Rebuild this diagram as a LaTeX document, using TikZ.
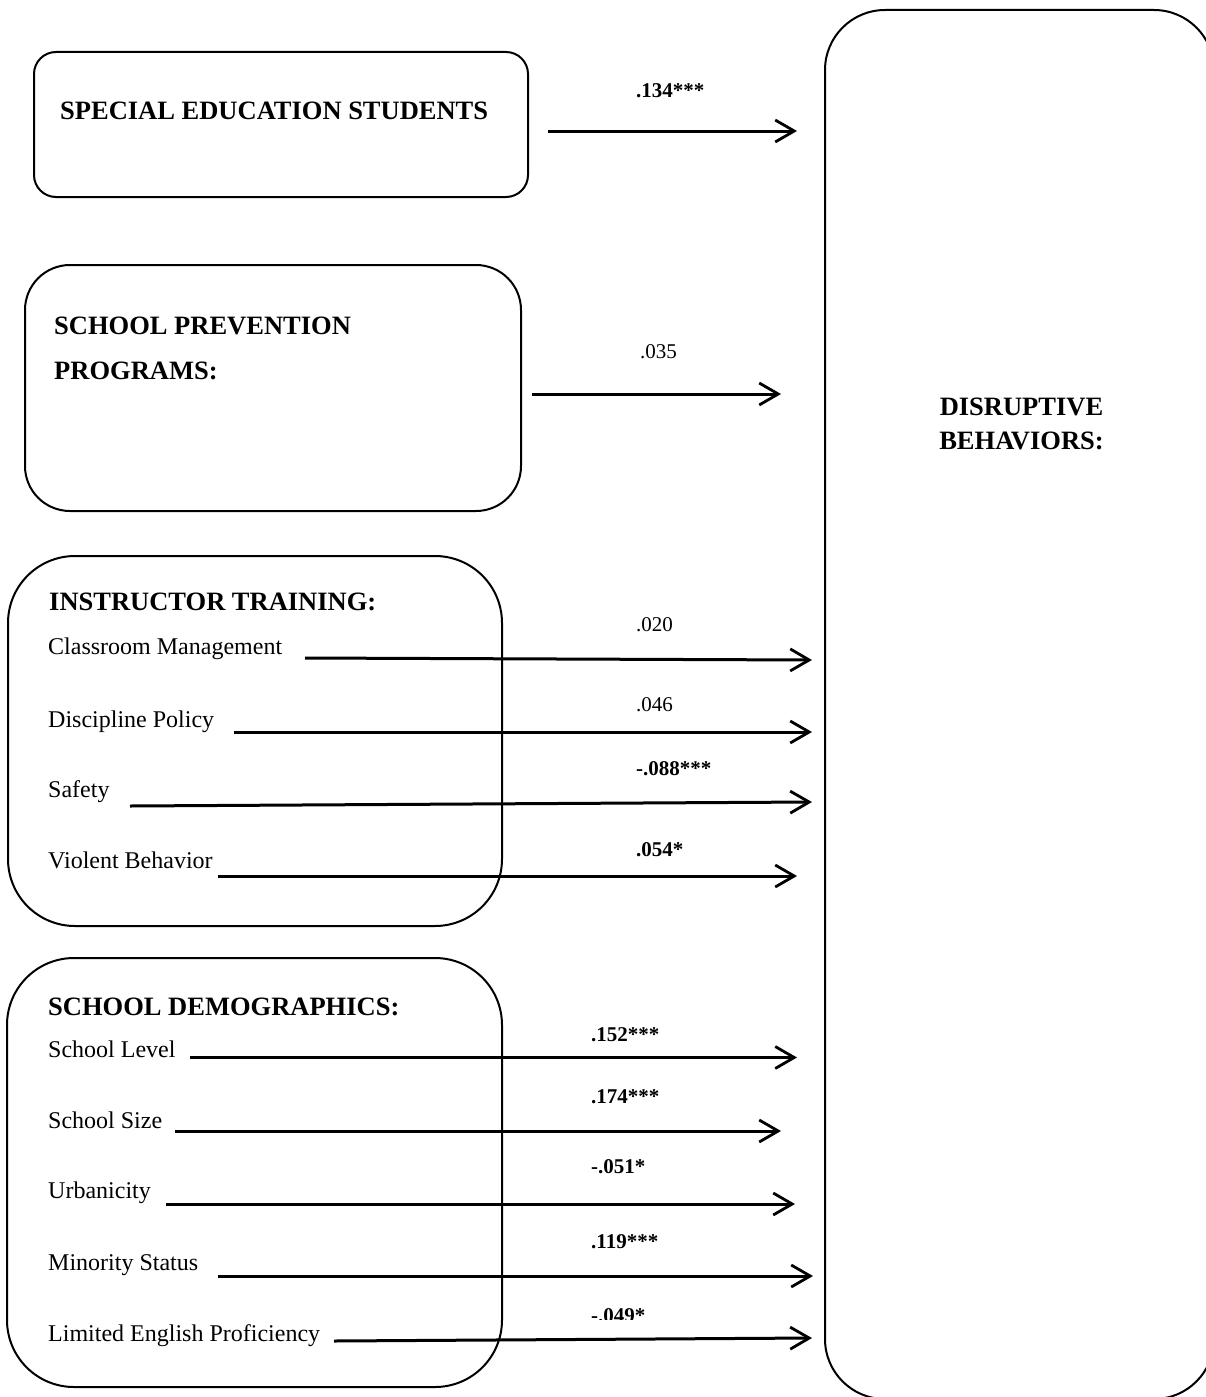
\documentclass[tikz,border=0pt]{standalone}
\usepackage{fontspec}
\setmainfont{Liberation Serif}
\usetikzlibrary{arrows.meta}
\begin{document}
\begin{tikzpicture}[x=1pt,y=-1pt,
  box/.style={draw, line width=2pt, inner sep=0pt},
  ttl/.style={font=\fontsize{26.5}{30}\selectfont\bfseries, inner sep=0pt, anchor=base west},
  txt/.style={font=\fontsize{24}{28}\selectfont, inner sep=0pt, anchor=base west},
  lbl/.style={font=\fontsize{21}{24}\selectfont, inner sep=0pt, anchor=base west},
  lblb/.style={lbl, font=\fontsize{21}{24}\selectfont\bfseries},
  arr/.style={line width=3pt, -{Straight Barb[length=19pt,width=22pt,line width=2.8pt]}}]
\useasboundingbox (0,0) rectangle (1206,1397);
\clip (0,0) rectangle (1206,1397);
% boxes
\node[box, rounded corners=22pt, minimum width=494pt, minimum height=145pt] (b1) at (281,124.5) {};
\node[box, rounded corners=45pt, minimum width=496pt, minimum height=246pt] (b2) at (273,388) {};
\node[box, rounded corners=67pt, minimum width=494pt, minimum height=370pt] (b3) at (255,741) {};
\node[box, rounded corners=67pt, minimum width=495pt, minimum height=429pt] (b4) at (254.5,1172.5) {};
\node[box, rounded corners=60pt, minimum width=389pt, minimum height=1389pt] (big) at (1019.5,704.5) {};
% titles
\node[ttl] (t1) at (60,119) {SPECIAL EDUCATION STUDENTS};
\node[ttl] (t2a) at (54,334) {SCHOOL PREVENTION};
\node[ttl] (t2b) at (54,379) {PROGRAMS:};
\node[ttl] (t3) at (49,610) {INSTRUCTOR TRAINING:};
\node[ttl] (t4) at (48,1015) {SCHOOL DEMOGRAPHICS:};
\node[ttl, anchor=base] (d1) at (1021.5,415) {DISRUPTIVE};
\node[ttl, anchor=base] (d2) at (1021.5,449) {BEHAVIORS:};
% items
\node[txt] (i1) at (48,654) {Classroom Management};
\node[txt] (i2) at (48,727) {Discipline Policy};
\node[txt] (i3) at (48,797) {Safety};
\node[txt] (i4) at (48,868) {Violent Behavior};
\node[txt] (i5) at (48,1057) {School Level};
\node[txt] (i6) at (48,1128) {School Size};
\node[txt] (i7) at (48,1198) {Urbanicity};
\node[txt] (i8) at (48,1270) {Minority Status};
\node[txt] (i9) at (48,1341) {Limited English Proficiency};
% arrow end points
\coordinate (s1) at (548,131);   \coordinate (e1) at (797,131);
\coordinate (s2) at (532,394);   \coordinate (e2) at (781,394);
\coordinate (s3) at (305,658);   \coordinate (e3) at (812,660);
\coordinate (s4) at (234,732);   \coordinate (e4) at (812,732);
\coordinate (s5) at (130,806);   \coordinate (e5) at (812,802);
\coordinate (s6) at (218,876);   \coordinate (e6) at (797,876);
\coordinate (s7) at (190,1057.5); \coordinate (e7) at (797,1057.5);
\coordinate (s8) at (175,1131);  \coordinate (e8) at (781,1131);
\coordinate (s9) at (166,1204);  \coordinate (e9) at (795,1204);
\coordinate (s10) at (218,1276); \coordinate (e10) at (813,1276);
\coordinate (s11) at (334,1341); \coordinate (e11) at (812,1338);
\foreach \k in {1,...,11} \draw[arr] (s\k) -- (e\k);
% labels
\node[lblb] (l1) at (636,97.3) {.134***};
\node[lbl]  (l2) at (640,358) {.035};
\node[lbl]  (l3) at (636,631.7) {.020};
\node[lbl]  (l4) at (636,711.7) {.046};
\node[lblb] (l5) at (636,775) {-.088***};
\node[lblb] (l6) at (636,856.7) {.054*};
\node[lblb] (l7) at (591,1041.7) {.152***};
\node[lblb] (l8) at (591,1103.3) {.174***};
\node[lblb] (l9) at (591,1173) {-.051*};
\node[lblb] (l10) at (591,1248.3) {.119***};
\begin{scope}
\clip (570,1290) rectangle (720,1319.5);
\node[lblb] (l11) at (591,1322) {-.049*};
\end{scope}
\end{tikzpicture}
\end{document}
